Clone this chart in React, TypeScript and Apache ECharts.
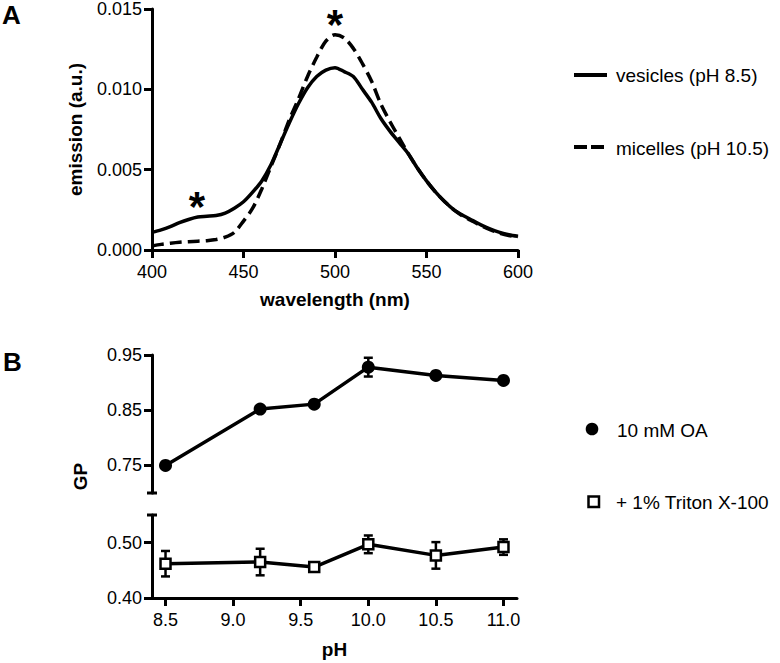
import React, { useEffect, useRef } from "react";
import * as echarts from "echarts";

// ---------- Panel A data ----------
const WAVELENGTH = [400, 405, 410, 415, 420, 425, 430, 435, 440, 445, 450, 455, 460, 465, 470, 475, 480, 485, 490, 495, 500, 505, 510, 515, 520, 525, 530, 535, 540, 545, 550, 555, 560, 565, 570, 575, 580, 585, 590, 595, 600];
const VESICLES = [0.0011, 0.00125, 0.00145, 0.0017, 0.0019, 0.00205, 0.0021, 0.00215, 0.0023, 0.0026, 0.003, 0.0036, 0.0043, 0.0053, 0.0066, 0.0079, 0.0091, 0.0101, 0.0108, 0.0112, 0.01135, 0.0111, 0.0108, 0.01, 0.0092, 0.0082, 0.0074, 0.0067, 0.006, 0.0051, 0.0043, 0.0036, 0.003, 0.0025, 0.00215, 0.00185, 0.00155, 0.0013, 0.0011, 0.00095, 0.00085];
const MICELLES = [0.00025, 0.00035, 0.00042, 0.00048, 0.00052, 0.00055, 0.00058, 0.00065, 0.0008, 0.0011, 0.0018, 0.0026, 0.0038, 0.0052, 0.0066, 0.0081, 0.0094, 0.0108, 0.012, 0.013, 0.0134, 0.0132, 0.01255, 0.0116, 0.0105, 0.0091, 0.008, 0.007, 0.006, 0.0051, 0.0043, 0.0036, 0.003, 0.0025, 0.0021, 0.0018, 0.0015, 0.00125, 0.00105, 0.0009, 0.0008];
const ASTERISKS = [[424.5, 0.0031], [500, 0.0144]];
const A_Y_TICKS = [0, 0.005, 0.01, 0.015];

// ---------- Panel B data ----------
const PH = [8.5, 9.2, 9.6, 10.0, 10.5, 11.0];
const OA_GP = [0.75, 0.852, 0.861, 0.928, 0.913, 0.904];
const OA_ERR = [0.004, 0.004, 0.004, 0.017, 0.004, 0.004];
const TRITON_GP = [0.462, 0.465, 0.456, 0.497, 0.477, 0.492];
const TRITON_ERR = [0.023, 0.024, 0.004, 0.016, 0.024, 0.014];
const PH_TICKS = [8.5, 9.0, 9.5, 10.0, 10.5, 11.0];
const UPPER_TICKS = [0.75, 0.85, 0.95];
const LOWER_TICKS = [0.4, 0.5];

const FONT = "'Liberation Sans', Arial, Helvetica, sans-serif";
const GA = { left: 152, top: 7, width: 366, height: 243 };
const GB1 = { left: 152, top: 355, width: 365, height: 138 };
const GB2 = { left: 152, top: 515, width: 365, height: 83 };

const axisLine = { lineStyle: { color: "#000", width: 3 } };
const axisTick = { length: 8, lineStyle: { color: "#000", width: 3 } };
const labelBase = { color: "#000", fontSize: 18, fontFamily: FONT };

function errorRender(params: any, api: any) {
  const x = api.value(0);
  const lo = api.coord([x, api.value(1)]);
  const hi = api.coord([x, api.value(2)]);
  const cw = 4.5;
  const style = { stroke: "#000", lineWidth: 2.5 };
  return {
    type: "group",
    children: [
      { type: "line", shape: { x1: lo[0], y1: lo[1], x2: hi[0], y2: hi[1] }, style },
      { type: "line", shape: { x1: lo[0] - cw, y1: lo[1], x2: lo[0] + cw, y2: lo[1] }, style },
      { type: "line", shape: { x1: hi[0] - cw, y1: hi[1], x2: hi[0] + cw, y2: hi[1] }, style },
    ],
  };
}

export default function App() {
  const ref = useRef<HTMLDivElement>(null);
  useEffect(() => {
    if (!ref.current) return;
    const chart = echarts.init(ref.current, null, { renderer: "svg" });
    const option: any = {
      animation: false,
      backgroundColor: "#fff",
      textStyle: { fontFamily: FONT },
      grid: [
        { ...GA, containLabel: false },
        { ...GB1, containLabel: false },
        { ...GB2, containLabel: false },
      ],
      xAxis: [
        {
          gridIndex: 0, type: "value", min: 400, max: 600, interval: 50,
          axisLine, axisTick, splitLine: { show: false },
          axisLabel: { ...labelBase, margin: 13 },
          name: "wavelength (nm)", nameLocation: "middle", nameGap: 40,
          nameTextStyle: { color: "#000", fontSize: 19, fontWeight: "bold", fontFamily: FONT },
        },
        { gridIndex: 1, type: "value", min: 8.4, max: 11.1, show: false, splitLine: { show: false } },
        {
          gridIndex: 2, type: "value", min: 8.4, max: 11.1,
          axisLine, splitLine: { show: false },
          axisTick: { ...axisTick, customValues: PH_TICKS },
          axisLabel: { ...labelBase, margin: 13, customValues: PH_TICKS, formatter: (v: number) => v.toFixed(1) },
          name: "pH", nameLocation: "middle", nameGap: 42,
          nameTextStyle: { color: "#000", fontSize: 19, fontWeight: "bold", fontFamily: FONT },
        },
      ],
      yAxis: [
        {
          gridIndex: 0, type: "value", min: 0, max: 0.015, interval: 0.005,
          axisLine: { show: true, ...axisLine }, splitLine: { show: false },
          axisTick: { show: true, ...axisTick, customValues: A_Y_TICKS },
          axisLabel: { ...labelBase, margin: 10, customValues: A_Y_TICKS, formatter: (v: number) => v.toFixed(3) },
          name: "emission (a.u.)", nameLocation: "middle", nameGap: 67,
          nameTextStyle: { color: "#000", fontSize: 19, fontWeight: "bold", fontFamily: FONT },
        },
        {
          gridIndex: 1, type: "value", min: 0.7, max: 0.95,
          axisLine: { show: true, ...axisLine }, splitLine: { show: false },
          axisTick: { show: true, ...axisTick, customValues: UPPER_TICKS },
          axisLabel: { ...labelBase, margin: 10, customValues: UPPER_TICKS, formatter: (v: number) => v.toFixed(2) },
        },
        {
          gridIndex: 2, type: "value", min: 0.4, max: 0.55,
          axisLine: { show: true, ...axisLine }, splitLine: { show: false },
          axisTick: { show: true, ...axisTick, customValues: LOWER_TICKS },
          axisLabel: { ...labelBase, margin: 10, customValues: LOWER_TICKS, formatter: (v: number) => v.toFixed(2) },
        },
      ],
      series: [
        {
          name: "vesicles (pH 8.5)", type: "line", xAxisIndex: 0, yAxisIndex: 0,
          data: WAVELENGTH.map((w, i) => [w, VESICLES[i]]),
          symbol: "none", smooth: 0.3, lineStyle: { color: "#000", width: 3.5 },
        },
        {
          name: "micelles (pH 10.5)", type: "line", xAxisIndex: 0, yAxisIndex: 0,
          data: WAVELENGTH.map((w, i) => [w, MICELLES[i]]),
          symbol: "none", smooth: 0.3, lineStyle: { color: "#000", width: 3.5, type: [12, 6] },
        },
        {
          name: "asterisks", type: "scatter", xAxisIndex: 0, yAxisIndex: 0,
          data: ASTERISKS, symbolSize: 0, itemStyle: { color: "#000", opacity: 1 },
          label: {
            show: true, position: "inside", formatter: "*", color: "#000", opacity: 1,
            fontSize: 42, fontWeight: "bold", fontFamily: FONT, offset: [0, 6],
          },
          z: 5,
        },
        {
          name: "OA error", type: "custom", xAxisIndex: 1, yAxisIndex: 1,
          data: PH.map((p, i) => [p, OA_GP[i] - OA_ERR[i], OA_GP[i] + OA_ERR[i]]),
          renderItem: errorRender, z: 2,
        },
        {
          name: "10 mM OA", type: "line", xAxisIndex: 1, yAxisIndex: 1,
          data: PH.map((p, i) => [p, OA_GP[i]]),
          symbol: "circle", symbolSize: 13,
          itemStyle: { color: "#000" }, lineStyle: { color: "#000", width: 3.5 }, z: 3,
        },
        {
          name: "Triton error", type: "custom", xAxisIndex: 2, yAxisIndex: 2,
          data: PH.map((p, i) => [p, TRITON_GP[i] - TRITON_ERR[i], TRITON_GP[i] + TRITON_ERR[i]]),
          renderItem: errorRender, z: 2,
        },
        {
          name: "+ 1% Triton X-100", type: "line", xAxisIndex: 2, yAxisIndex: 2,
          data: PH.map((p, i) => [p, TRITON_GP[i]]),
          symbol: "rect", symbolSize: 10,
          itemStyle: { color: "#fff", borderColor: "#000", borderWidth: 2.5 },
          lineStyle: { color: "#000", width: 3.5 }, z: 3,
        },
      ],
      graphic: [
        { type: "text", left: 2, top: 2, style: { text: "A", fontSize: 26, fontWeight: "bold", fill: "#000", fontFamily: FONT } },
        { type: "text", left: 3, top: 349, style: { text: "B", fontSize: 26, fontWeight: "bold", fill: "#000", fontFamily: FONT } },
        {
          type: "text", x: 80, y: (GB1.top + GB2.top + GB2.height) / 2, rotation: Math.PI / 2,
          style: { text: "GP", fontSize: 19, fontWeight: "bold", fill: "#000", fontFamily: FONT, align: "center", verticalAlign: "middle" },
        },
        // axis break caps
        { type: "line", shape: { x1: GB1.left - 5, y1: GB1.top + GB1.height, x2: GB1.left + 5, y2: GB1.top + GB1.height }, style: { stroke: "#000", lineWidth: 3 } },
        { type: "line", shape: { x1: GB2.left - 5, y1: GB2.top, x2: GB2.left + 5, y2: GB2.top }, style: { stroke: "#000", lineWidth: 3 } },
        // legend A
        { type: "line", shape: { x1: 574, y1: 75, x2: 607, y2: 75 }, style: { stroke: "#000", lineWidth: 4 } },
        { type: "text", x: 616, y: 75, style: { text: "vesicles (pH 8.5)", fontSize: 19, fill: "#000", fontFamily: FONT, verticalAlign: "middle" } },
        { type: "line", shape: { x1: 574, y1: 147, x2: 607, y2: 147 }, style: { stroke: "#000", lineWidth: 4, lineDash: [13, 4] } },
        { type: "text", x: 616, y: 148, style: { text: "micelles (pH 10.5)", fontSize: 19, fill: "#000", fontFamily: FONT, verticalAlign: "middle" } },
        // legend B
        { type: "circle", shape: { cx: 592, cy: 429, r: 6.3 }, style: { fill: "#000" } },
        { type: "text", x: 617, y: 430, style: { text: "10 mM OA", fontSize: 19, fill: "#000", fontFamily: FONT, verticalAlign: "middle" } },
        { type: "rect", shape: { x: 588.5, y: 496.5, width: 10.5, height: 10.5 }, style: { fill: "#fff", stroke: "#000", lineWidth: 2.5 } },
        { type: "text", x: 616, y: 502, style: { text: "+ 1% Triton X-100", fontSize: 19, fill: "#000", fontFamily: FONT, verticalAlign: "middle" } },
      ],
    };
    chart.setOption(option);
    return () => chart.dispose();
  }, []);
  return (
    <div
      ref={ref}
      style={{ position: "fixed", left: 0, top: 0, width: 780, height: 663, background: "#fff" }}
    />
  );
}
